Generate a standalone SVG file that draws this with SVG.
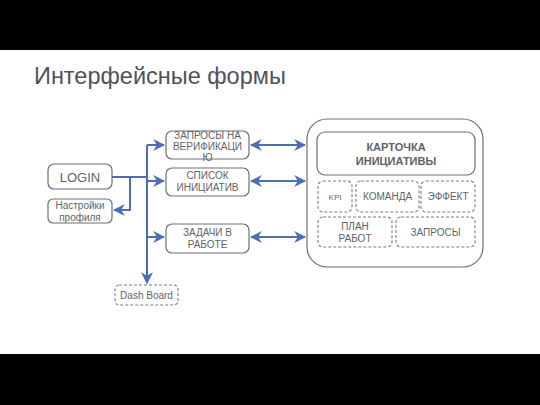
<svg xmlns="http://www.w3.org/2000/svg" width="540" height="405" viewBox="0 0 540 405">
<defs>
<style>
.bar{fill:#000}
.box{fill:#fff;stroke:#6b6e75;stroke-width:1.2}
.dash{fill:#fff;stroke:#7a7d84;stroke-width:1.1;stroke-dasharray:3 2}
.t{font-family:"Liberation Sans",Arial,sans-serif;fill:#606369;text-anchor:middle}
.c{fill:none;stroke:#4a6fb5;stroke-width:2}
</style>
<marker id="ah" viewBox="0 0 10 10" refX="9" refY="5" markerWidth="6" markerHeight="6" orient="auto-start-reverse" markerUnits="strokeWidth">
<path d="M0,0 L10,5 L0,10 L3,5 Z" fill="#4a6fb5"/>
</marker>
</defs>
<rect width="540" height="405" fill="#fff"/>
<rect class="bar" x="0" y="0" width="540" height="50"/>
<rect class="bar" x="0" y="354" width="540" height="51"/>
<text x="34" y="84" font-family="'Liberation Sans',Arial,sans-serif" font-size="23.5" fill="#4d5260">Интерфейсные формы</text>

<g id="connectors">
<path class="c" d="M112,177 H147"/>
<path class="c" d="M130,177 V210 H114" marker-end="url(#ah)"/>
<path class="c" d="M147,145 V283" marker-end="url(#ah)"/>
<path class="c" d="M147,145 H164" marker-end="url(#ah)"/>
<path class="c" d="M147,181 H164" marker-end="url(#ah)"/>
<path class="c" d="M147,237 H164" marker-end="url(#ah)"/>
<path class="c" d="M251,145 H305" marker-start="url(#ah)" marker-end="url(#ah)"/>
<path class="c" d="M251,181 H305" marker-start="url(#ah)" marker-end="url(#ah)"/>
<path class="c" d="M251,237 H305" marker-start="url(#ah)" marker-end="url(#ah)"/>
</g>

<g id="login">
<rect class="box" x="48" y="164" width="64" height="25" rx="6"/>
<text class="t" x="80" y="182" font-size="13">LOGIN</text>
</g>
<g id="settings">
<rect class="box" x="48" y="199" width="64" height="24" rx="5"/>
<text class="t" x="80" y="209" font-size="10">Настройки</text>
<text class="t" x="80" y="221" font-size="10">профиля</text>
</g>
<g id="verification">
<rect class="box" x="166" y="131" width="83" height="28" rx="6"/>
<text class="t" x="207.5" y="139" font-size="10">ЗАПРОСЫ НА</text>
<text class="t" x="207.5" y="150" font-size="10">ВЕРИФИКАЦИ</text>
<text class="t" x="207.5" y="161" font-size="10">Ю</text>
</g>
<g id="list">
<rect class="box" x="166" y="168" width="83" height="28" rx="6"/>
<text class="t" x="207.5" y="179" font-size="10">СПИСОК</text>
<text class="t" x="207.5" y="191" font-size="10">ИНИЦИАТИВ</text>
</g>
<g id="tasks">
<rect class="box" x="166" y="224" width="83" height="29" rx="6"/>
<text class="t" x="207.5" y="236" font-size="10">ЗАДАЧИ В</text>
<text class="t" x="207.5" y="248" font-size="10">РАБОТЕ</text>
</g>
<g id="dashboard">
<rect class="dash" x="115" y="285" width="63" height="20" rx="4"/>
<text class="t" x="146.5" y="299" font-size="10">Dash Board</text>
</g>
<g id="card">
<rect class="box" x="307" y="119" width="176" height="148" rx="20"/>
<rect class="box" x="317" y="132" width="158" height="43" rx="8"/>
<text class="t" x="396" y="151" font-size="11" font-weight="bold">КАРТОЧКА</text>
<text class="t" x="396" y="165" font-size="11" font-weight="bold">ИНИЦИАТИВЫ</text>
</g>
<g id="kpi">
<rect class="dash" x="318" y="181" width="34" height="31" rx="5"/>
<text class="t" x="335" y="200" font-size="8">KPI</text>
</g>
<g id="team">
<rect class="dash" x="356" y="181" width="63" height="31" rx="5"/>
<text class="t" x="387.5" y="200" font-size="10">КОМАНДА</text>
</g>
<g id="effect">
<rect class="dash" x="421" y="181" width="54" height="31" rx="5"/>
<text class="t" x="448" y="200" font-size="10">ЭФФЕКТ</text>
</g>
<g id="plan">
<rect class="dash" x="318" y="217" width="74" height="30" rx="5"/>
<text class="t" x="355" y="230" font-size="10">ПЛАН</text>
<text class="t" x="355" y="242" font-size="10">РАБОТ</text>
</g>
<g id="requests">
<rect class="dash" x="396" y="217" width="79" height="30" rx="5"/>
<text class="t" x="435.5" y="236" font-size="10">ЗАПРОСЫ</text>
</g>
</svg>
